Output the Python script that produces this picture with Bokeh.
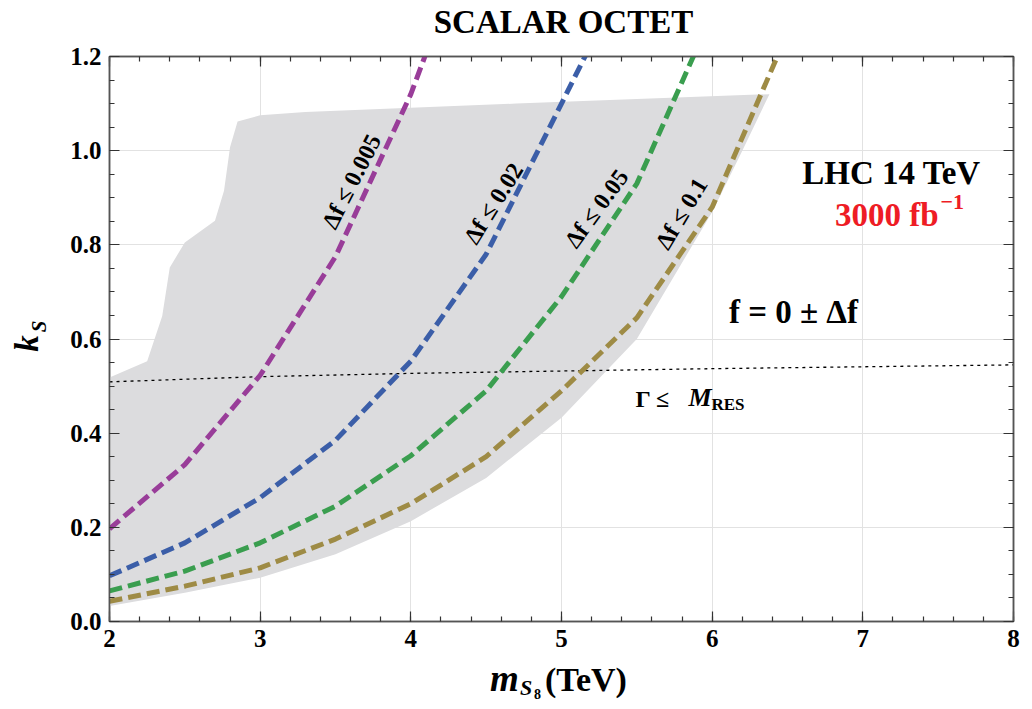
from bokeh.plotting import figure
from bokeh.models import (Label, LinearAxis, FixedTicker, Range1d,
                          CustomJSTickFormatter, Div)
from bokeh.layouts import column
from bokeh.embed import file_html
from bokeh.resources import INLINE

# ---------------- data ----------------
mass = [2.0, 2.5, 3.0, 3.5, 4.0, 4.5, 5.0, 5.5, 6.0, 6.5]
df_0005 = [0.197, 0.333, 0.523, 0.775, 1.12, 1.55]
df_002 = [0.097, 0.167, 0.263, 0.385, 0.553, 0.78, 1.10, 1.42]
df_005 = [0.065, 0.107, 0.167, 0.245, 0.352, 0.49, 0.69, 0.93, 1.29]
df_01 = [0.043, 0.075, 0.114, 0.175, 0.25, 0.35, 0.49, 0.645, 0.88, 1.25]

band_x = [2.0, 2.5, 3.0, 3.5, 4.0, 4.5, 5.0, 5.5, 6.0, 6.2, 6.38,
          4.7, 3.3, 3.0, 2.85, 2.80, 2.76, 2.70, 2.50, 2.40, 2.35, 2.25, 2.0]
band_y = [0.033, 0.061, 0.093, 0.143, 0.213, 0.305, 0.433, 0.60, 0.87, 1.0, 1.12,
          1.10, 1.082, 1.075, 1.062, 1.007, 0.915, 0.851, 0.805, 0.752, 0.649, 0.553, 0.518]

width_x = [2, 3, 4, 5, 6, 7, 8]
width_y = [0.509, 0.520, 0.527, 0.532, 0.537, 0.541, 0.545]

x_ticks = [2, 3, 4, 5, 6, 7, 8]
x_minor = [2 + 0.2 * i for i in range(31)]
y_ticks = [0.0, 0.2, 0.4, 0.6, 0.8, 1.0, 1.2]
y_minor = [0.05 * i for i in range(25)]

series_labels = ["\u0394f \u2264 0.005", "\u0394f \u2264 0.02", "\u0394f \u2264 0.05", "\u0394f \u2264 0.1"]
colors = ["#993d99", "#3b5ea8", "#3a9e4f", "#9e8b45"]

FONT = "Liberation Serif"

p = figure(output_backend="svg", toolbar_location=None,
           frame_width=904, frame_height=565,
           min_border_left=109, min_border_right=19,
           min_border_top=56, min_border_bottom=40,
           x_range=Range1d(2, 8), y_range=Range1d(0, 1.2),
           x_axis_location=None, y_axis_location=None)
p.background_fill_color = "white"
p.border_fill_color = "white"
p.outline_line_color = "#555555"
p.outline_line_width = 1.5

xt = FixedTicker(ticks=x_ticks, minor_ticks=x_minor)
yt = FixedTicker(ticks=y_ticks, minor_ticks=y_minor)

def style_axis(ax, show_labels):
    ax.axis_line_color = "#555555"
    ax.axis_line_width = 1.5
    ax.major_tick_in = 10
    ax.major_tick_out = 0
    ax.minor_tick_in = 5
    ax.minor_tick_out = 0
    ax.major_tick_line_color = "#333333"
    ax.minor_tick_line_color = "#333333"
    ax.major_tick_line_width = 1.2
    ax.minor_tick_line_width = 1.2
    if show_labels:
        ax.major_label_text_font = FONT
        ax.major_label_text_font_style = "bold"
        ax.major_label_text_font_size = "25px"
        ax.major_label_text_color = "black"
        ax.major_label_standoff = 8
    else:
        ax.formatter = CustomJSTickFormatter(code="return ''")
        ax.major_label_text_font_size = "0px"
        ax.major_label_standoff = 0

bx = LinearAxis(ticker=xt); style_axis(bx, True); p.add_layout(bx, "below")
tx = LinearAxis(ticker=xt); style_axis(tx, False); p.add_layout(tx, "above")
ly = LinearAxis(ticker=yt); style_axis(ly, True); p.add_layout(ly, "left")
ry = LinearAxis(ticker=yt); style_axis(ry, False); p.add_layout(ry, "right")
ly.formatter = CustomJSTickFormatter(code="return tick.toFixed(1)")

p.xgrid.ticker = xt
p.ygrid.ticker = yt
p.grid.grid_line_color = "#e2e2e2"
p.grid.grid_line_width = 1

# gray region
p.patch(band_x, band_y, fill_color="#dcdcde", line_color=None)

# width line
p.line(width_x, width_y, line_color="black", line_width=1.3, line_dash="3 4")

# dashed curves
for ys, c in zip([df_0005, df_002, df_005, df_01], colors):
    p.line(mass[:len(ys)], ys, line_color=c, line_width=5, line_dash="13 6")

# ---------------- text: page pixel positions -> data coordinates ----------------
FL, FB, FR, FT = 109, 621, 1013, 56

def X(px):
    return 2 + (px - FL) * 6 / (FR - FL)

def Y(py):
    return (FB - py) * 1.2 / (FB - FT)

def lab(text, px, py, size, style="bold", color="black", align="center",
        baseline="middle", angle=0, place="center"):
    p.add_layout(Label(x=X(px), y=Y(py), text=text, text_font=FONT,
                       text_font_size=f"{size}px", text_font_style=style,
                       text_color=color, text_align=align,
                       text_baseline=baseline, angle=angle, angle_units="deg"),
                 place)

lab("LHC 14 TeV", 891, 172, 33)
lab("3000 fb", 938, 214, 33, color="#ee1c25", align="right")
lab("\u22121", 940, 201, 22, color="#ee1c25", align="left")
lab("f = 0 \u00b1 \u0394f", 793, 311, 33)
lab("\u0393 \u2264", 635, 398, 24, align="left")
lab("M", 688, 397, 26, style="bold italic", align="left")
lab("RES", 711, 404, 17, align="left")

curve_label_pos = [(351, 181, 63), (493, 203, 58), (596, 208, 54), (681, 213, 59)]
for t, (px, py, a) in zip(series_labels, curve_label_pos):
    lab(t, px, py, 24, angle=a)

# labels outside the frame live in the side panels (not clipped)
lab("SCALAR OCTET", 563, 21, 33, place="above")
lab("k", 26, 343, 33, style="bold italic", angle=90, place="left")
lab("S", 38, 326, 21, style="bold italic", angle=90, place="left")

# x-axis title as rich text below the figure
def span(txt, left, base, fs, style="normal"):
    top = base - 0.8375 * fs
    return (f'<span style="position:absolute;left:{left}px;top:{top:.1f}px;'
            f'font-family:\'{FONT}\';font-weight:bold;font-style:{style};'
            f'font-size:{fs}px;line-height:{fs}px;white-space:nowrap;">{txt}</span>')

xlabel_html = ('<div style="position:relative;width:1032px;height:48px;">'
               + span("m", 490, 30, 37, "italic")
               + span("S", 520, 34, 22, "italic")
               + span("8", 534, 39, 14)
               + span("(TeV)", 545, 30, 34)
               + '</div>')
xdiv = Div(text=xlabel_html, width=1032, height=48, margin=0)

layout = column(p, xdiv, spacing=0)
open("out.html", "w").write(file_html(layout, INLINE))
